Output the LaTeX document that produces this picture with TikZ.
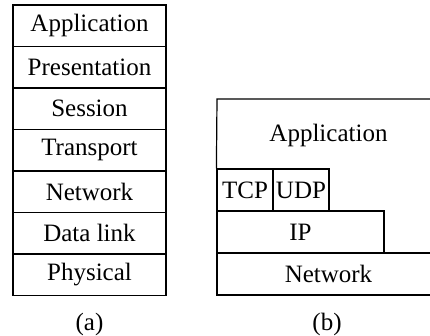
\documentclass[tikz,border=0pt]{standalone}
\usepackage{fontspec}
\setmainfont{Liberation Serif}
\begin{document}
\begin{tikzpicture}[x=1pt,y=-1pt,
  every node/.style={font=\fontsize{25}{28}\selectfont},
  layer/.style={draw, line width=1.2pt, inner sep=0pt, minimum height=41.5pt},
  edge/.style={draw, line width=1.2pt},
  caption/.style={inner sep=0pt}]
  \useasboundingbox (0,0) rectangle (430,335);
  \clip (0,0) rectangle (430,335);
  % OSI reference model
  \foreach \name [count=\i from 0] in {Application,Presentation,Session,Transport,Network,Data link,Physical}
    \node[layer, minimum width=153pt] (osi\i) at (89.5,{5+41.5*(\i+0.5)}) {\name};
  \node[caption] (capa) at (89.5,324) {(a)};
  % TCP/IP model
  \node[layer, minimum width=223pt, minimum height=42pt] (net) at (328.5,274) {Network};
  \node[layer, minimum width=167pt, minimum height=42pt] (ip) at (300.5,232) {IP};
  \node[layer, minimum width=56pt, minimum height=42pt] (tcp) at (245,190) {TCP};
  \node[layer, minimum width=56pt, minimum height=42pt] (udp) at (301,190) {UDP};
  \node (app) at (328.5,135) {Application};
  \path[edge] (tcp.north west) -- (217,99) -- (440,99) -- (net.north east);
  \node[caption] (capb) at (327,324) {(b)};
\end{tikzpicture}
\end{document}
